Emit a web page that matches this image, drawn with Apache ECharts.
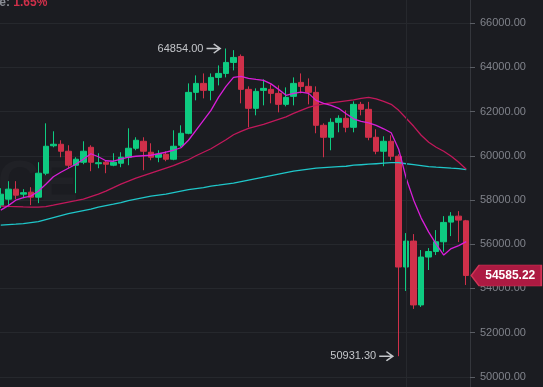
<!DOCTYPE html>
<html><head><meta charset="utf-8">
<script src="https://cdn.jsdelivr.net/npm/echarts@6/dist/echarts.min.js"></script>
<style>html,body{margin:0;padding:0;background:#1b1c21;}#c{width:543px;height:387px;}</style>
</head><body><div id="c"></div>
<script>
const categories = ['1','2','3','4','5','6','7','8','9','10','11','12','13','14','15','16','17','18','19','20','21','22','23','24','25','26','27','28','29','30','31','32','33','34','35','36','37','38','39','40','41','42','43','44','45','46','47','48','49','50','51','52','53','54','55','56','57','58','59','60','61','62','63'];
const openP  = [57767,58038,58490,58264,58354,58128,59212,60454,60522,60206,59574,59709,60386,59641,59709,59574,59664,59935,60341,60657,60161,59935,60070,59845,60477,61019,62870,63277,62961,63548,63728,64225,64496,63006,62148,62961,63006,62825,62328,62690,63322,63141,62870,61380,60838,61515,61696,61290,62328,62103,60838,60206,60657,59980,54967,56141,53251,55419,55667,56110,56999,57270,57058];
const closeP = [58264,58490,58219,58332,58128,59212,60432,60522,60206,59574,59845,60206,59709,59687,59619,59709,59935,60341,60703,60206,59935,60070,59845,60432,61019,62870,63277,62961,63548,63728,64225,64451,63006,62148,62915,63051,62825,62328,62644,63277,63141,62870,61380,60838,61515,61696,61290,62328,62103,60838,60206,60657,59980,54967,56141,53251,55419,55667,56110,56986,57270,57090,54585.22];
const lowP   = [57632,57677,58038,58083,57767,57858,59122,60386,59935,59438,58309,59619,59303,59438,59212,59528,59483,59574,60251,59348,59799,59709,59754,59799,60386,60974,62509,62599,62509,63186,63548,63864,62374,61290,61832,62283,62374,61967,62238,62283,62825,62328,61019,59935,60251,61064,61064,61064,61832,60703,60070,59528,59799,50931.30,53883,53071,53161,54832,55509,55658,56367,56096,54154];
const highP  = [58535,58851,58851,58490,58580,59709,61470,61109,60703,60477,59935,60657,60477,60116,59799,60116,60161,61245,60838,60838,60567,60251,60206,61154,61380,63277,63638,63728,63728,64090,64854,64780,64586,63141,63051,63457,63232,63186,63096,63548,63728,63503,63141,61470,61696,61832,62057,62464,62441,62441,61199,60883,60928,60070,56503,56458,55735,55825,56638,57270,57451,57496,57100];
const ma7  = [57541,57745,57993,58106,58174,58399,58716,59054,59257,59438,59619,59845,60093,59957,59777,59754,59845,59935,59980,60003,60025,60093,60161,60251,60364,60703,61154,61606,62057,62644,63141,63548,63593,63503,63457,63412,63254,63006,62735,62825,62884,62825,62509,62374,62283,62148,61899,61674,61561,61493,61380,61222,61041,60296,58987,57993,57180,56548,56006,55509,55803,55938,56119];
const ma25 = [57722,57709,57700,57686,57677,57677,57700,57767,57835,57903,57970,58038,58151,58264,58399,58557,58716,58851,58987,59099,59212,59325,59438,59551,59687,59822,60003,60161,60319,60522,60725,60951,61109,61245,61335,61425,61538,61651,61764,61922,62057,62193,62283,62351,62396,62441,62486,62532,62599,62644,62577,62464,62328,62057,61696,61335,60928,60612,60386,60206,59980,59709,59393];
const ma99 = [56864,56887,56909,56932,56977,57022,57112,57203,57293,57383,57451,57519,57587,57677,57745,57812,57880,57970,58038,58106,58174,58219,58264,58332,58399,58467,58512,58557,58625,58670,58716,58761,58828,58896,58964,59032,59099,59167,59235,59303,59348,59393,59438,59461,59483,59506,59528,59574,59596,59619,59641,59664,59687,59687,59641,59596,59551,59506,59483,59461,59438,59416,59370];
const yMin = 48000, yMax = 68000, yStep = 2000;
const highMark = {index: 30, value: 64854.00, text: '64854.00'};
const lowMark  = {index: 53, value: 50931.30, text: '50931.30'};
const lastPrice = {index: 62, value: 54585.22, text: '54585.22'};
const changeLabel = 'Change: ', changeValue = '1.65%';

const UP = '#0ecb81', DOWN = '#cf304a';
const ohlc = openP.map((o, i) => [o, closeP[i], lowP[i], highP[i]]);
const arrowPath = 'path://M0,4.2 L10.5,4.2 L6.2,0.9 L7.3,0 L14,5 L7.3,10 L6.2,9.1 L10.5,5.8 L0,5.8 Z';
const chart = echarts.init(document.getElementById('c'), null, {renderer: 'canvas'});
chart.setOption({
  backgroundColor: '#1b1c21',
  animation: false,
  title: {
    text: '{a|' + changeLabel + '}{b|' + changeValue + '}',
    left: -38, top: -3, padding: 0,
    textStyle: {rich: {
      a: {color: '#8a8d94', fontSize: 12, fontFamily: 'Liberation Sans'},
      b: {color: DOWN, fontSize: 12, fontFamily: 'Liberation Sans'}
    }}
  },
  graphic: [{
    type: 'text', left: -186, top: 156, silent: true, z: -1,
    style: {text: 'BINANCE', font: 'bold 58px Liberation Sans', fill: 'rgba(255,255,255,0.022)'}
  }],
  grid: {left: -3, right: 73, top: -21, bottom: -34, containLabel: false, outerBoundsMode: 'none'},
  xAxis: {
    type: 'category', data: categories, boundaryGap: true,
    axisLine: {show: false}, axisTick: {show: false}, axisLabel: {show: false},
    splitLine: {show: false}
  },
  yAxis: {
    type: 'value', position: 'right', min: yMin, max: yMax, interval: yStep, scale: true,
    axisLine: {show: true, lineStyle: {color: '#34363c', width: 1}},
    axisTick: {show: true, length: 5, lineStyle: {color: '#5a5d64'}},
    axisLabel: {color: '#80838b', fontSize: 11, margin: 10, fontFamily: 'Liberation Sans',
      formatter: v => v.toFixed(2)},
    splitLine: {show: true, lineStyle: {color: '#26282d', width: 1}}
  },
  series: [
    {
      type: 'candlestick', data: ohlc, barWidth: 6, z: 2,
      itemStyle: {color: UP, color0: DOWN, borderColor: UP, borderColor0: DOWN, borderWidth: 1},
      markLine: {
        silent: true, symbol: 'none', label: {show: false},
        lineStyle: {color: '#26282d', width: 1, type: 'solid'},
        data: [{xAxis: 54}]
      },
      markPoint: {
        z: 10,
        data: [
          {coord: [highMark.index, highMark.value], symbol: arrowPath, symbolSize: [15, 10],
           symbolOffset: [-12, 0], symbolKeepAspect: false,
           itemStyle: {color: '#c4c6ca'},
           label: {show: true, position: 'left', distance: 3, formatter: highMark.text,
                   color: '#c4c6ca', fontSize: 11, fontFamily: 'Liberation Sans'}},
          {coord: [lowMark.index, lowMark.value], symbol: arrowPath, symbolSize: [15, 10],
           symbolOffset: [-12, 0], symbolKeepAspect: false,
           itemStyle: {color: '#c4c6ca'},
           label: {show: true, position: 'left', distance: 3, formatter: lowMark.text,
                   color: '#c4c6ca', fontSize: 11, fontFamily: 'Liberation Sans'}},
          {coord: [lastPrice.index, lastPrice.value], symbol: 'path://M0,10.5 L8,0 L70,0 L70,21 L8,21 Z',
           symbolSize: [70, 21], symbolOffset: [40, 0], symbolKeepAspect: false,
           itemStyle: {color: '#ad1a42', borderColor: '#d13456', borderWidth: 1},
           label: {show: true, position: 'inside', offset: [4, 0], formatter: lastPrice.text,
                   color: '#ffffff', fontSize: 12, fontWeight: 'bold', fontFamily: 'Liberation Sans'}}
        ]
      }
    },
    {type: 'line', data: ma99, symbol: 'none', z: 3, lineStyle: {color: '#1fc6c9', width: 1.3}},
    {type: 'line', data: ma25, symbol: 'none', z: 3, lineStyle: {color: '#c2185b', width: 1.3}},
    {type: 'line', data: ma7,  symbol: 'none', z: 3, lineStyle: {color: '#d91ed9', width: 1.3}}
  ]
});
</script>
</body></html>
